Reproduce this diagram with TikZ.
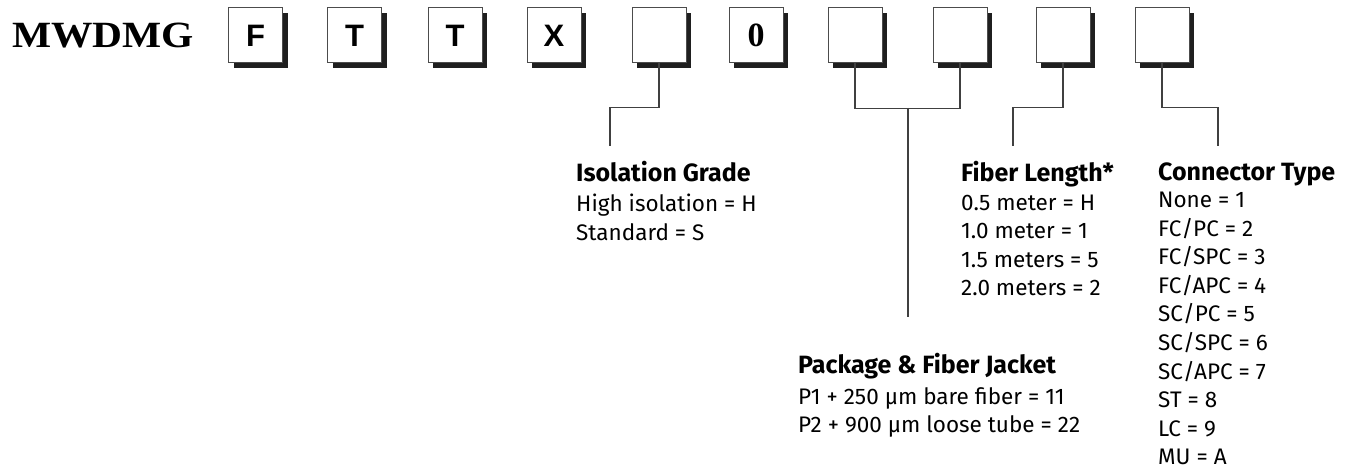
\documentclass[tikz,border=0pt]{standalone}
\usepackage{fontspec}
\usepackage{graphicx}
\setmainfont{Fira Sans}
\newfontfamily\codefont{Liberation Sans}
\newfontfamily\brandfont{Liberation Serif}
\usetikzlibrary{shadows}

\begin{document}
\begin{tikzpicture}[x=1pt, y=-1pt,
    codebox/.style={draw=black!70, line width=1pt, fill=white, minimum width=54pt, minimum height=55pt, inner sep=0pt,
        drop shadow={shadow xshift=5pt, shadow yshift=-5pt, opacity=1, fill=black!88}},
    lead/.style={draw=black!75, line width=1.3pt},
    head/.style={anchor=base west, inner sep=0pt, font=\bfseries\fontsize{25}{28}\selectfont},
    item/.style={anchor=base west, inner sep=0pt, font=\fontsize{22.5}{28}\selectfont}]
    \useasboundingbox (0,0) rectangle (1352,470);

    \node (brand) at (12,48) [anchor=base west, inner sep=0pt, font=\brandfont\bfseries\fontsize{37}{37}\selectfont] {\scalebox{1.12}[1]{MWDMG}};

    % code boxes
    \node (b1) at (255.5,35.5) [codebox, font=\codefont\bfseries\fontsize{31}{31}\selectfont] {F};
    \node (b2) at (354.5,35.5) [codebox, font=\codefont\bfseries\fontsize{31}{31}\selectfont] {T};
    \node (b3) at (455,35.5) [codebox, font=\codefont\bfseries\fontsize{31}{31}\selectfont] {T};
    \node (b4) at (554,35.5) [codebox, font=\codefont\bfseries\fontsize{31}{31}\selectfont] {X};
    \node (b5) at (659,35.5) [codebox] {};
    \node (b6) at (756,35.5) [codebox, font=\brandfont\bfseries\fontsize{34}{34}\selectfont] {0};
    \node (b7) at (855,35.5) [codebox] {};
    \node (b8) at (960,35.5) [codebox] {};
    \node (b9) at (1063,35.5) [codebox] {};
    \node (b10) at (1162,35.5) [codebox] {};

    % isolation grade
    \coordinate (ig) at (610,146);
    \draw [lead] (b5.south) -- ++(0,44) -| (ig);
    \node (ighead) at (576,182) [head] {Isolation Grade};
    \node (ig1) at (576,212) [item] {High isolation = H};
    \node (ig2) at (576,240.5) [item] {Standard = S};

    % package and jacket
    \coordinate (pjtop) at (908,108);
    \coordinate (pj) at (908,317);
    \draw [lead] (b7.south) -- ++(0,45) -| (b8.south);
    \draw [lead] (pjtop) -- (pj);
    \node (pjhead) at (798,373) [head] {Package \& Fiber Jacket};
    \node (pj1) at (798,404) [item] {P1 + 250 µm bare fiber = 11};
    \node (pj2) at (798,432.5) [item] {P2 + 900 µm loose tube = 22};

    % fiber length
    \coordinate (fl) at (1013,146);
    \draw [lead] (b9.south) -- ++(0,44) -| (fl);
    \node (flhead) at (961,182) [head] {Fiber Length*};
    \foreach \t [count=\i] in {0.5 meter = H, 1.0 meter = 1, 1.5 meters = 5, 2.0 meters = 2}
        \node (fl\i) at (961,182+28.5*\i) [item] {\t};

    % connector type
    \coordinate (ct) at (1218,146);
    \draw [lead] (b10.south) -- ++(0,44) -| (ct);
    \node (cthead) at (1158,181) [head] {Connector Type};
    \foreach \t [count=\i] in {None = 1, FC/PC = 2, FC/SPC = 3, FC/APC = 4, SC/PC = 5, SC/SPC = 6, SC/APC = 7, ST = 8, LC = 9, MU = A}
        \node (ct\i) at (1158,179.5+28.5*\i) [item] {\t};

\end{tikzpicture}
\end{document}
